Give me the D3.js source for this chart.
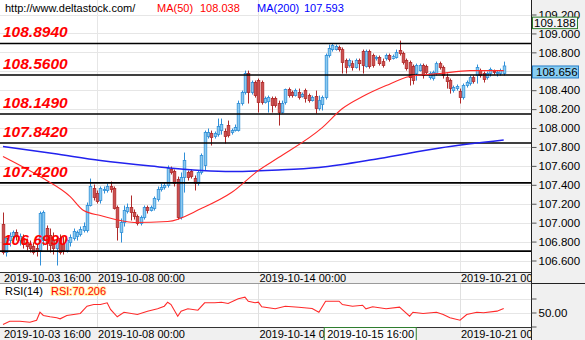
<!DOCTYPE html>
<html><head><meta charset="utf-8">
<script src="https://cdn.jsdelivr.net/npm/d3@7"></script>
<style>
html,body{margin:0;padding:0;background:#fff;}
svg{display:block;font-family:"Liberation Sans",Arial,sans-serif;}
</style></head><body>
<svg id="c" width="585" height="340"></svg>
<script>
// ---- data (2-hour bars) ----
const open = [106.980,106.684,106.811,106.854,106.896,106.811,106.832,106.790,106.769,106.748,
106.726,106.706,106.811,106.938,106.864,106.811,106.726,106.832,106.769,106.706,
106.790,106.832,106.854,106.875,106.917,106.917,107.181,107.361,107.308,107.234,
107.340,107.340,107.382,107.361,107.160,106.896,107.002,107.118,107.160,107.107,
107.065,106.991,107.054,107.160,107.128,107.149,107.245,107.350,107.371,107.392,
107.562,107.540,107.456,107.054,107.477,107.530,107.540,107.466,107.413,107.530,
107.604,107.910,107.942,107.910,107.931,107.973,107.963,108.026,107.952,107.973,
107.973,108.259,108.375,108.576,108.375,108.481,108.502,108.481,108.269,108.280,
108.312,108.312,108.259,108.164,108.269,108.407,108.375,108.343,108.375,108.333,
108.396,108.343,108.290,108.333,108.206,108.248,108.322,108.766,108.829,108.829,
108.851,108.829,108.713,108.660,108.681,108.639,108.713,108.808,108.650,108.808,
108.766,108.734,108.745,108.702,108.734,108.766,108.734,108.745,108.819,108.787,
108.713,108.692,108.650,108.576,108.607,108.660,108.650,108.533,108.523,108.576,
108.681,108.639,108.533,108.502,108.396,108.417,108.386,108.322,108.449,108.470,
108.533,108.555,108.607,108.576,108.533,108.576,108.597,108.576,108.576,108.576];
const high = [107.107,106.854,106.896,106.917,106.928,106.885,106.875,106.832,106.811,106.790,
106.769,107.118,107.128,106.970,106.938,106.896,106.864,106.875,106.854,106.832,
106.875,106.938,106.917,106.959,107.002,107.213,107.466,107.403,107.340,107.382,
107.382,107.413,107.435,107.382,107.181,107.044,107.181,107.202,107.287,107.139,
107.086,107.075,107.181,107.181,107.181,107.276,107.382,107.413,107.424,107.604,
107.593,107.562,107.487,107.530,107.741,107.551,107.562,107.498,107.551,107.731,
107.973,107.995,107.973,107.963,108.100,108.100,107.995,108.079,107.995,108.037,
108.290,108.396,108.607,108.607,108.502,108.502,108.523,108.502,108.333,108.343,
108.333,108.333,108.290,108.290,108.417,108.428,108.396,108.417,108.417,108.375,
108.417,108.364,108.343,108.396,108.343,108.343,108.787,108.882,108.893,108.882,
108.872,108.851,108.734,108.734,108.713,108.734,108.734,108.829,108.829,108.829,
108.787,108.766,108.766,108.734,108.787,108.787,108.776,108.829,108.924,108.808,
108.734,108.713,108.671,108.681,108.681,108.681,108.671,108.597,108.607,108.702,
108.702,108.660,108.576,108.523,108.449,108.460,108.417,108.470,108.502,108.555,
108.555,108.671,108.628,108.597,108.597,108.639,108.618,108.607,108.628,108.702];
const low = [106.663,106.642,106.748,106.811,106.811,106.758,106.726,106.706,106.684,106.663,
106.642,106.547,106.758,106.706,106.684,106.663,106.547,106.663,106.663,106.684,
106.748,106.811,106.811,106.854,106.896,106.896,107.171,107.234,107.202,107.202,
107.308,107.318,107.318,107.139,106.811,106.790,106.959,107.097,107.023,107.033,
106.970,106.970,107.033,107.097,107.118,107.128,107.223,107.329,107.350,107.371,
107.509,107.382,107.033,107.033,107.318,107.445,107.466,107.340,107.392,107.509,
107.551,107.889,107.815,107.889,107.910,107.931,107.836,107.900,107.931,107.963,
107.963,108.238,108.354,108.259,108.354,108.322,108.164,108.248,108.259,108.164,
108.164,108.217,108.026,108.153,108.248,108.322,108.322,108.333,108.301,108.322,
108.269,108.269,108.280,108.153,108.185,108.185,108.301,108.745,108.808,108.819,
108.808,108.576,108.576,108.639,108.607,108.628,108.607,108.576,108.639,108.628,
108.639,108.713,108.660,108.639,108.713,108.702,108.724,108.734,108.766,108.671,
108.607,108.449,108.460,108.502,108.597,108.523,108.565,108.512,108.502,108.555,
108.618,108.523,108.417,108.364,108.375,108.396,108.259,108.301,108.428,108.449,
108.470,108.470,108.533,108.481,108.512,108.544,108.565,108.544,108.555,108.555];
const close = [106.684,106.832,106.854,106.896,106.854,106.854,106.769,106.748,106.726,106.684,
106.695,107.097,107.107,106.779,106.758,106.726,106.811,106.684,106.706,106.811,
106.843,106.906,106.896,106.928,106.959,107.181,107.382,107.266,107.223,107.361,
107.350,107.382,107.350,107.149,106.949,107.002,107.128,107.160,107.107,107.065,
106.991,107.054,107.160,107.128,107.160,107.255,107.350,107.371,107.392,107.572,
107.530,107.413,107.054,107.477,107.657,107.477,107.487,107.413,107.530,107.709,
107.952,107.952,107.900,107.942,108.016,108.037,107.910,107.921,107.973,108.005,
108.259,108.375,108.576,108.375,108.481,108.343,108.269,108.269,108.312,108.322,
108.238,108.238,108.164,108.259,108.407,108.343,108.343,108.396,108.322,108.354,
108.312,108.290,108.322,108.206,108.290,108.322,108.766,108.840,108.872,108.861,
108.829,108.692,108.639,108.713,108.639,108.713,108.681,108.660,108.808,108.650,
108.660,108.745,108.681,108.660,108.766,108.724,108.755,108.798,108.787,108.692,
108.628,108.533,108.502,108.660,108.660,108.555,108.586,108.576,108.586,108.681,
108.639,108.555,108.491,108.417,108.428,108.438,108.322,108.449,108.481,108.533,
108.491,108.639,108.555,108.512,108.576,108.618,108.586,108.586,108.607,108.656];

const ma50Idx = [0,11,20,24,29,39,49,59,68,76,82,95,101,107,114,121,130,139,149];
const ma50Val = [107.699,107.487,107.276,107.128,107.075,107.002,107.012,107.149,107.318,107.551,107.688,108.005,108.206,108.333,108.449,108.544,108.576,108.607,108.607];
const ma200Idx = [0,15,29,44,59,68,82,94,112,130,149];
const ma200Val = [107.804,107.731,107.657,107.598,107.551,107.540,107.556,107.583,107.678,107.789,107.873];

const rsiIdx = [0,2,5,8,10,11,12,14,16,17,19,23,25,27,29,31,32,34,36,40,43,46,48,49,50,52,53,55,58,60,63,65,67,70,72,73,75,76,77,81,84,88,92,94,96,100,101,104,107,108,110,114,118,119,121,122,125,129,131,133,136,138,141,143,147,149];
const rsiVal = [32.9,37.6,37.6,36.1,39.0,50.4,45.7,43.9,42.4,41.0,45.7,48.6,59.0,61.4,61.4,63.9,54.3,43.9,50.4,47.1,51.9,55.3,59.0,64.7,61.4,44.7,51.9,55.3,53.3,63.9,63.9,64.7,62.9,69.6,71.9,66.1,63.9,64.7,58.1,55.3,59.0,57.6,55.7,50.4,66.1,66.1,61.4,59.0,60.4,55.3,58.1,55.3,57.6,53.3,44.7,50.4,48.6,50.4,47.1,42.4,39.0,47.1,50.4,49.6,51.9,55.7];

const levels = [108.894,108.560,108.149,107.842,107.420,106.699];
const levelLabels = ["108.8940","108.5600","108.1490","107.8420","107.4200","106.6990"];
const priceTicks = [106.6,106.8,107.0,107.2,107.4,107.6,107.8,108.0,108.2,108.4,108.6,108.8,109.0,109.2];
const rsiTicks = [30,50,70];
const timeTickIdx = [0,28,76,136];
const timeTickLabels = ["2019-10-03 16:00","2019-10-08 00:00","2019-10-14 00:00","2019-10-21 00:00"];
const lastPrice = 108.656;
const crossPrice = 109.188;
const crossTime = "2019-10-15 16:00";
const crossTimeIdx = 95;
const headerSite = "http://www.deltastock.com/";
const ma50Text = ["MA(50)","108.038"];
const ma200Text = ["MA(200)","107.593"];
const rsiTitle = "RSI(14)";
const rsiText = "RSI:70.206";

// ---- layout ----
const svg = d3.select("#c");
const PR = 531; // plot right
const x = d3.scaleLinear().domain([0, open.length-1]).range([3, 503.7]);
const y = d3.scaleLinear().domain([106.6, 109.2]).range([260.5, 14.5]);
const yr = d3.scaleLinear().domain([30, 70]).range([326.5, 298.5]);
const cx0 = x(crossTimeIdx)+2;

svg.append("rect").attr("width",585).attr("height",340).attr("fill","#fff");
const defs = svg.append("defs");
defs.append("clipPath").attr("id","mainclip")
  .append("rect").attr("x",0).attr("y",0).attr("width",PR).attr("height",272);
defs.append("clipPath").attr("id","topband")
  .append("rect").attr("x",0).attr("y",272).attr("width",PR).attr("height",12);
defs.append("clipPath").attr("id","botband")
  .append("rect").attr("x",0).attr("y",327).attr("width",cx0).attr("height",13);
defs.append("clipPath").attr("id","botband2")
  .append("rect").attr("x",cx0+92).attr("y",327).attr("width",PR-cx0-92).attr("height",13);

const main = svg.append("g").attr("clip-path","url(#mainclip)");
// grid
main.selectAll(".hg").data(priceTicks).join("line")
  .attr("x1",0).attr("x2",PR).attr("y1",d=>Math.round(y(d))+0.5).attr("y2",d=>Math.round(y(d))+0.5)
  .attr("stroke","#e6e6e6").attr("stroke-width",1);
main.selectAll(".vg").data(timeTickIdx.slice(1)).join("line")
  .attr("x1",d=>Math.round(x(d))+0.5).attr("x2",d=>Math.round(x(d))+0.5).attr("y1",0).attr("y2",272)
  .attr("stroke","#e6e6e6").attr("stroke-width",1);

// candles
const idx = d3.range(open.length);
const bw = 2.6;
const cg = main.append("g");
cg.selectAll("line").data(idx).join("line")
  .attr("x1",i=>Math.round(x(i))+0.5).attr("x2",i=>Math.round(x(i))+0.5)
  .attr("y1",i=>y(high[i])).attr("y2",i=>y(low[i]))
  .attr("stroke",i=>close[i]>=open[i]?"#2f8fd8":"#b02a2a").attr("stroke-width",1);
cg.selectAll("rect").data(idx).join("rect")
  .attr("x",i=>Math.round(x(i))+0.5-bw/2).attr("width",bw)
  .attr("y",i=>Math.min(y(open[i]),y(close[i])))
  .attr("height",i=>Math.max(1,Math.abs(y(open[i])-y(close[i]))))
  .attr("fill",i=>close[i]>=open[i]?"#8ccaf0":"#cc5050")
  .attr("stroke",i=>close[i]>=open[i]?"#2f8fd8":"#b02a2a").attr("stroke-width",0.8);

// level lines
main.selectAll(".lv").data(levels).join("line")
  .attr("x1",0).attr("x2",PR).attr("y1",d=>y(d)).attr("y2",d=>y(d))
  .attr("stroke","#000").attr("stroke-width",1.6);

// moving averages
const lineGen = d3.line().curve(d3.curveMonotoneX);
main.append("path").attr("d",lineGen(ma200Idx.map((d,k)=>[x(d),y(ma200Val[k])])))
  .attr("fill","none").attr("stroke","#2222ee").attr("stroke-width",1.5);
main.append("path").attr("d",lineGen(ma50Idx.map((d,k)=>[x(d),y(ma50Val[k])])))
  .attr("fill","none").attr("stroke","#ff2a2a").attr("stroke-width",1.1);

// level labels
main.selectAll(".ll").data(levels).join("text")
  .attr("x",3).attr("y",d=>y(d)-6).text((d,k)=>levelLabels[k])
  .attr("fill","#ff0000").attr("font-size","15.5px").attr("font-weight","bold").attr("font-style","italic");

// header
const hdr = svg.append("g").attr("font-size","11px");
hdr.append("text").attr("x",5).attr("y",12).text(headerSite).attr("fill","#000");
hdr.append("text").attr("x",157).attr("y",12).text(ma50Text[0]).attr("fill","#ff0000");
hdr.append("text").attr("x",200).attr("y",12).text(ma50Text[1]).attr("fill","#ff0000");
hdr.append("text").attr("x",257).attr("y",12).text(ma200Text[0]).attr("fill","#0000ff");
hdr.append("text").attr("x",304).attr("y",12).text(ma200Text[1]).attr("fill","#0000ff");

// time band helper
function timeBand(y0, y1, clips){
  const g = svg.append("g");
  g.append("rect").attr("x",0).attr("y",y0).attr("width",PR).attr("height",y1-y0).attr("fill","#f0f0f0");
  g.append("line").attr("x1",0).attr("x2",PR).attr("y1",y0+0.5).attr("y2",y0+0.5).attr("stroke","#333");
  clips.forEach(cid=>{
    g.append("g").attr("clip-path",`url(#${cid})`)
     .selectAll("text").data(timeTickIdx).join("text")
      .attr("x",d=>x(d)+1).attr("y",y1-2).text((d,k)=>timeTickLabels[k])
      .attr("font-size","11px").attr("fill","#000");
  });
  return g;
}
timeBand(272, 284, ["topband"]);
svg.append("line").attr("x1",0).attr("x2",PR).attr("y1",283.5).attr("y2",283.5).attr("stroke","#9a9a9a");

// RSI panel
const rg = svg.append("g");
rg.selectAll(".rg").data(rsiTicks.slice(1)).join("line")
  .attr("x1",0).attr("x2",PR).attr("y1",d=>Math.round(yr(d))+0.5).attr("y2",d=>Math.round(yr(d))+0.5)
  .attr("stroke","#e6e6e6");
rg.selectAll(".rv").data(timeTickIdx.slice(1)).join("line")
  .attr("x1",d=>Math.round(x(d))+0.5).attr("x2",d=>Math.round(x(d))+0.5).attr("y1",284).attr("y2",327)
  .attr("stroke","#e0e0e0");
rg.append("path").attr("d",d3.line()(rsiIdx.map((d,k)=>[x(d),yr(rsiVal[k])])))
  .attr("fill","none").attr("stroke","#ff2a2a").attr("stroke-width",1.1);
rg.append("text").attr("x",5).attr("y",295).text(rsiTitle).attr("font-size","11px").attr("fill","#000");
rg.append("text").attr("x",51).attr("y",295).text(rsiText).attr("font-size","11px")
  .attr("fill","#ff0000").attr("stroke","#fff6b0").attr("stroke-width",2).attr("paint-order","stroke");

timeBand(327, 340, ["botband","botband2"]);
// crosshair time box
svg.append("rect").attr("x",cx0).attr("y",327.5).attr("width",92).attr("height",13)
  .attr("fill","#fafafa").attr("stroke","#2e7d2e").attr("stroke-width",1);
svg.append("text").attr("x",cx0+3).attr("y",338).text(crossTime).attr("font-size","11px").attr("fill","#000");

// right axis panel
const ra = svg.append("g");
ra.append("rect").attr("x",PR).attr("y",0).attr("width",585-PR).attr("height",340).attr("fill","#f0f0f0");
ra.append("line").attr("x1",PR+0.5).attr("x2",PR+0.5).attr("y1",0).attr("y2",340).attr("stroke","#222");
ra.append("line").attr("x1",PR).attr("x2",585).attr("y1",283.5).attr("y2",283.5).attr("stroke","#222");
const hiddenTicks = priceTicks.filter(t=>Math.abs(y(t)-y(lastPrice)-6)<7);
const axisG = ra.append("g").attr("transform",`translate(${PR+0.5},0)`)
  .call(d3.axisRight(y).tickValues(priceTicks)
    .tickFormat(d=>hiddenTicks.includes(d)?"":d3.format(".3f")(d)).tickSize(5).tickPadding(2));
axisG.select(".domain").remove();
axisG.selectAll("line").attr("stroke","#555");
axisG.selectAll("text").attr("font-size","11.5px").attr("font-family","Liberation Sans, Arial, sans-serif").attr("fill","#000");
const rAxisG = ra.append("g").attr("transform",`translate(${PR+0.5},0)`)
  .call(d3.axisRight(yr).tickValues(rsiTicks).tickFormat(d=>d===50?d3.format(".2f")(d):"").tickSize(5).tickPadding(2));
rAxisG.select(".domain").remove();
rAxisG.selectAll("line").attr("stroke","#555");
rAxisG.selectAll("text").attr("font-size","11.5px").attr("font-family","Liberation Sans, Arial, sans-serif").attr("fill","#000");

// price boxes
ra.append("rect").attr("x",PR+1.5).attr("y",y(lastPrice)).attr("width",46).attr("height",12)
  .attr("fill","#87cdf2").attr("stroke","#2a7fc8");
ra.append("text").attr("x",PR+5).attr("y",y(lastPrice)+10.5).text(d3.format(".3f")(lastPrice))
  .attr("font-size","11.5px").attr("fill","#000");
ra.append("rect").attr("x",PR+1.5).attr("y",y(crossPrice)+1.5).attr("width",45).attr("height",11.5)
  .attr("fill","#f4f4f4").attr("stroke","#2e7d2e");
ra.append("text").attr("x",PR+3).attr("y",y(crossPrice)+11.5).text(d3.format(".3f")(crossPrice))
  .attr("font-size","11.5px").attr("fill","#000");
</script>
</body></html>
